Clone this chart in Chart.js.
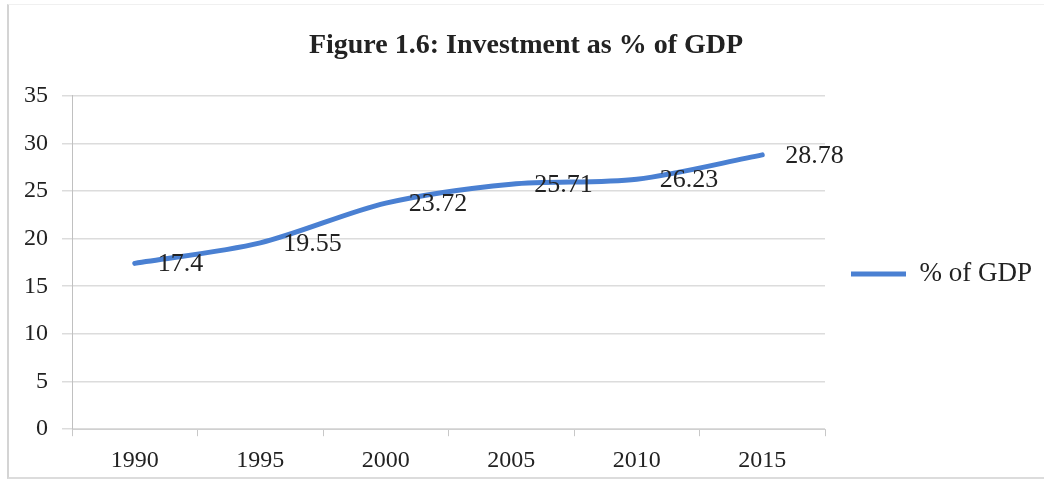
<!DOCTYPE html>
<html>
<head>
<meta charset="utf-8">
<script src="https://cdn.jsdelivr.net/npm/chart.js@4"></script>
<style>
  html, body { margin: 0; padding: 0; background: #fff; }
  #wrap { position: relative; width: 1044px; height: 488px; }
  #frame {
    position: absolute; left: 7px; top: 4px; right: 0; bottom: 9px;
    border-left: 2px solid #d4d4d4; border-bottom: 2px solid #dcdcdc; border-top: 1px solid #f0f0f0;
  }
  #investChart { position: absolute; left: 0; top: 0; }
</style>
</head>
<body>
<div id="wrap">
  <div id="frame"></div>
  <canvas id="investChart" width="1044" height="488"></canvas>
</div>
<script>
const years = ["1990", "1995", "2000", "2005", "2010", "2015"];
const gdpShare = [17.4, 19.55, 23.72, 25.71, 26.23, 28.78];
const yTicks = [0, 5, 10, 15, 20, 25, 30, 35];

const serif = '"Liberation Serif", "Times New Roman", serif';
const lineBlue = '#4a80d2';

// value next to each point, on its right
const valueLabels = {
  id: 'valueLabels',
  afterDatasetsDraw(chart) {
    const ctx = chart.ctx;
    const meta = chart.getDatasetMeta(0);
    ctx.save();
    ctx.font = '26px ' + serif;
    ctx.fillStyle = '#222';
    ctx.textBaseline = 'middle';
    meta.data.forEach(function (pt, i) {
      ctx.fillText(String(gdpShare[i]), pt.x + 23, pt.y + 1);
    });
    ctx.restore();
  }
};

const investCanvas = document.getElementById("investChart");

let investChart = new Chart(investCanvas, {
  type: 'line',
  data: {
    labels: years,
    datasets: [{
      label: '% of GDP',
      data: gdpShare,
      borderColor: lineBlue,
      backgroundColor: lineBlue,
      borderWidth: 5,
      tension: 0.3,
      pointRadius: 0,
      borderCapStyle: 'round',
      fill: false
    }]
  },
  options: {
    responsive: false,
    animation: false,
    layout: {
      padding: { left: 10, right: 2, top: 0, bottom: 3 }
    },
    scales: {
      x: {
        offset: true,
        grid: {
          offset: true,
          drawOnChartArea: false,
          tickLength: 7,
          color: '#c8c8c8'
        },
        border: { color: '#d0d0d0' },
        ticks: {
          font: { family: serif, size: 24 },
          color: '#222',
          padding: 10
        }
      },
      y: {
        min: 0,
        max: 35,
        afterBuildTicks: function (scale) {
          scale.ticks = yTicks.map(function (v) { return { value: v }; });
        },
        grid: {
          color: '#dcdcdc',
          tickLength: 10,
          lineWidth: 1.5
        },
        border: { color: '#c0c0c0' },
        ticks: {
          font: { family: serif, size: 24 },
          color: '#222',
          padding: 14
        }
      }
    },
    plugins: {
      title: {
        display: true,
        text: 'Figure 1.6: Investment as % of GDP',
        color: '#222',
        font: { family: serif, size: 28, weight: 'bold' },
        padding: { top: 29, bottom: 33 }
      },
      legend: {
        position: 'right',
        fullSize: false,
        title: {
          display: true,
          text: '',
          font: { size: 1 },
          padding: { top: 22, bottom: 0 }
        },
        labels: {
          usePointStyle: true,
          pointStyle: 'line',
          pointStyleWidth: 55,
          padding: 26,
          color: '#222',
          font: { family: serif, size: 27 }
        }
      },
      tooltip: { enabled: false }
    }
  },
  plugins: [valueLabels]
});
</script>
</body>
</html>
